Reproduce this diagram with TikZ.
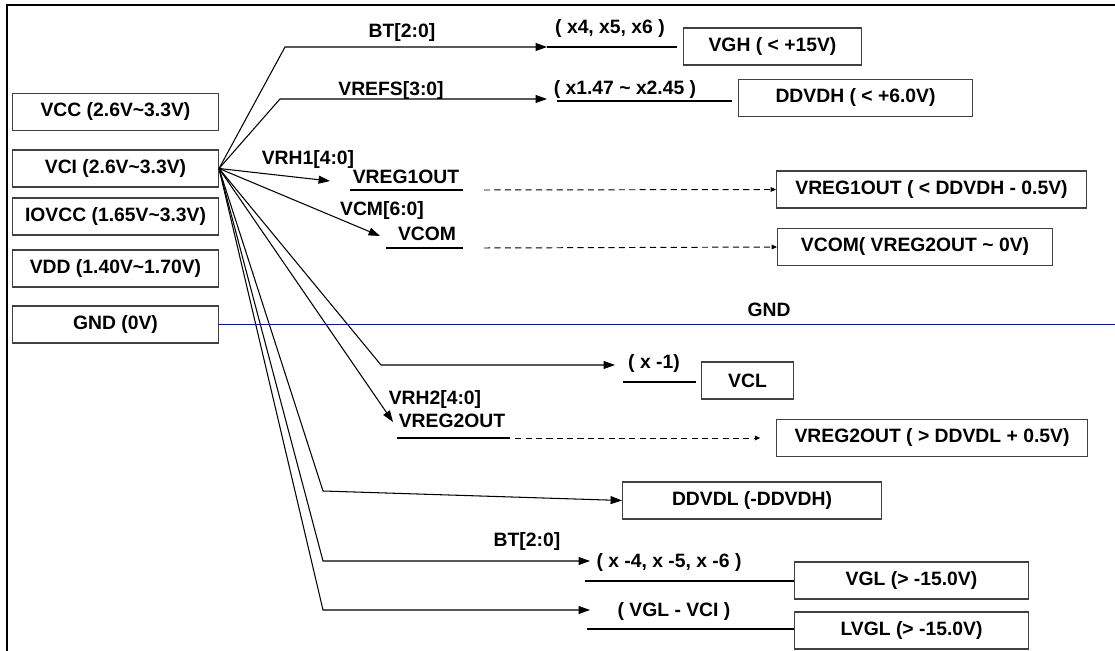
\documentclass[tikz,border=0pt]{standalone}
\usepackage{fontspec}
\setmainfont{Liberation Sans}
\usepackage{tikz}
\usetikzlibrary{arrows.meta,positioning}

\begin{document}
\begin{tikzpicture}[
    x=0.02cm, y=-0.02cm,
    font=\fontsize{11}{12}\selectfont\bfseries,
    railbox/.style={rectangle, draw=black!75, line width=0.6pt, minimum width=4.12cm,
                    minimum height=0.74cm, anchor=west, align=center},
    outbox/.style={rectangle, draw=black!75, line width=0.6pt,
                   minimum height=0.74cm, anchor=west, align=center},
    lbl/.style={inner sep=0pt},
    arrow/.style={-{Triangle[length=6.5pt,width=4.5pt]}, line width=0.6pt},
    dasharrow/.style={-{Triangle[length=3pt,width=2.6pt]}, dash pattern=on 3.5pt off 2.4pt,
                      line width=0.55pt, draw=black},
    bar/.style={line width=1.7pt}
]
\useasboundingbox (0,0) rectangle (1115,651);

%% ---- frame ----
\draw[line width=1.2pt] (7,651) -- (7,5) -- (1115,5);

%% ---- LEFT: supplies ----
\node[railbox] (vcc)   at (12,112)   {VCC (2.6V\textasciitilde 3.3V)};
\node[railbox] (vci)   at (12,168.5) {VCI (2.6V\textasciitilde 3.3V)};
\node[railbox] (iovcc) at (12,216.5) {IOVCC (1.65V\textasciitilde 3.3V)};
\node[railbox] (vdd)   at (12,268.5) {VDD (1.40V\textasciitilde 1.70V)};
\node[railbox] (gnd)   at (12,324.5) {GND (0V)};

%% ---- RIGHT: generated levels ----
\node[outbox, minimum width=3.56cm] (vgh)   at (683,46.5)  {VGH ( < +15V)};
\node[outbox, minimum width=4.68cm] (ddvdh) at (738,98)    {DDVDH ( < +6.0V)};
\node[outbox, minimum width=6.20cm] (vreg1) at (776,189.5) {VREG1OUT ( < DDVDH - 0.5V)};
\node[outbox, minimum width=5.50cm] (vcom)  at (777,247)   {VCOM( VREG2OUT \textasciitilde{} 0V)};
\node[outbox, minimum width=1.84cm] (vcl)   at (701,380.5) {VCL};
\node[outbox, minimum width=6.22cm] (vreg2) at (776,438)   {VREG2OUT ( > DDVDL + 0.5V)};
\node[outbox, minimum width=5.18cm] (ddvdl) at (622,500.5) {DDVDL (-DDVDH)};
\node[outbox, minimum width=4.68cm] (vgl)   at (794,580.5) {VGL (> -15.0V)};
\node[outbox, minimum width=4.68cm] (lvgl)  at (794,630.5) {LVGL (> -15.0V)};

%% ---- bends and tips ----
\coordinate (btk)   at (285,47);  \coordinate (btt)   at (547,47);  \coordinate (bte)   at (677,47);
\coordinate (refk)  at (280,99);  \coordinate (reft)  at (547,99);
\coordinate (refs)  at (557,101); \coordinate (refe)  at (732,101);
\coordinate (r1t)   at (330,181);
\coordinate (r1s)   at (350,190); \coordinate (r1e)   at (463,190);
\coordinate (cmt)   at (380,236);
\coordinate (cms)   at (386,248); \coordinate (cme)   at (463,248);
\coordinate (clk)   at (381,365); \coordinate (clt)   at (615,365);
\coordinate (cls)   at (623,382); \coordinate (cle)   at (696,382);
\coordinate (r2t)   at (393,422);
\coordinate (r2s)   at (397,438); \coordinate (r2e)   at (510,438);
\coordinate (dlk)   at (323,491);
\coordinate (glk)   at (323,561); \coordinate (glt)   at (590,561);
\coordinate (gls)   at (585,581);
\coordinate (lgk)   at (323,610); \coordinate (lgt)   at (590,610);
\coordinate (lgs)   at (587,629);

%% ---- fan out of VCI ----
\draw[arrow] (vci.east) -- (btk) -- (btt);
\draw[bar] (btt) -- (bte);
\draw[arrow] (vci.east) -- (refk) -- (reft);
\draw[bar] (refs) -- (refe);
\draw[arrow] (vci.east) -- (r1t);
\draw[bar] (r1s) -- (r1e);
\draw[dasharrow] ([xshift=12pt]r1e) -- (vreg1.west);
\draw[arrow] (vci.east) -- (cmt);
\draw[bar] (cms) -- (cme);
\draw[dasharrow] ([xshift=12pt]cme) -- (vcom.west);
\draw[arrow] (vci.east) -- (clk) -- (clt);
\draw[bar] (cls) -- (cle);
\draw[arrow] (vci.east) -- (r2t);
\draw[bar] (r2s) -- (r2e);
\draw[dasharrow] ([xshift=3pt]r2e) -- ([xshift=-9pt]vreg2.west);
\draw[arrow] (vci.east) -- (dlk) -- (ddvdl.west);
\draw[arrow] (vci.east) -- (glk) -- (glt);
\draw[bar] (gls) -- (vgl.west |- gls);
\draw[arrow] (vci.east) -- (lgk) -- (lgt);
\draw[bar] (lgs) -- (lvgl.west |- lgs);

%% ---- GND rail ----
\draw[blue, line width=0.7pt] (gnd.east) -- (1115,324.5);
\node[lbl] (gndl) at (769,310) {GND};

%% ---- labels ----
\node[lbl] (l1)  at (402,33)  {BT[2:0]};
\node[lbl] (l2)  at (610,29)  {( x4, x5, x6 )};
\node[lbl] (l3)  at (391,91)  {VREFS[3:0]};
\node[lbl] (l4)  at (625,90)  {( x1.47 \textasciitilde{} x2.45 )};
\node[lbl] (l5)  at (308,160) {VRH1[4:0]};
\node[lbl] (l6)  at (406,177) {VREG1OUT};
\node[lbl] (l7)  at (382,211) {VCM[6:0]};
\node[lbl] (l8)  at (427,234) {VCOM};
\node[lbl] (l9)  at (654,364) {( x -1)};
\node[lbl] (l10) at (435,400) {VRH2[4:0]};
\node[lbl] (l11) at (452,421) {VREG2OUT};
\node[lbl] (l12) at (527,542) {BT[2:0]};
\node[lbl] (l13) at (669,563) {( x -4, x -5, x -6 )};
\node[lbl] (l14) at (674,612) {( VGL - VCI )};

\end{tikzpicture}
\end{document}
